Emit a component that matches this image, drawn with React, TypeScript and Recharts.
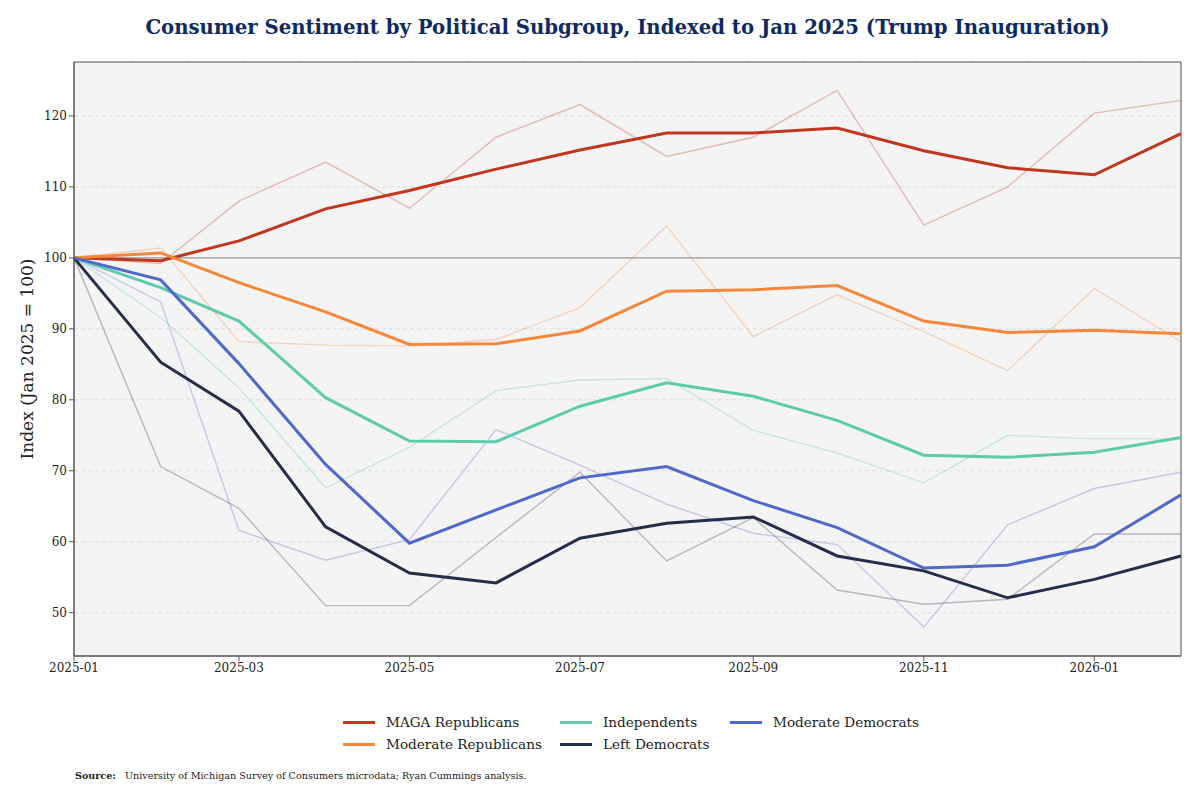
import { LineChart, Line, XAxis, YAxis, CartesianGrid, ReferenceLine, ReferenceArea } from "recharts";

const months = [
  "2025-01", "2025-02", "2025-03", "2025-04", "2025-05", "2025-06", "2025-07",
  "2025-08", "2025-09", "2025-10", "2025-11", "2025-12", "2026-01", "2026-02",
];
const xTicks = ["2025-01", "2025-03", "2025-05", "2025-07", "2025-09", "2025-11", "2026-01"];
const yTicks = [50, 60, 70, 80, 90, 100, 110, 120];

// thin lines: monthly index, thick lines: 3-month average
const magaRaw = [100, 99.2, 108, 113.5, 107, 117, 121.6, 114.3, 117, 123.6, 104.6, 110, 120.4, 122.2];
const magaAvg = [100, 99.6, 102.4, 106.9, 109.5, 112.5, 115.2, 117.6, 117.6, 118.3, 115.1, 112.7, 111.7, 117.5];
const modRepRaw = [100, 101.4, 88.2, 87.7, 87.6, 88.5, 93, 104.5, 88.9, 94.8, 89.6, 84.1, 95.7, 88.2];
const modRepAvg = [100, 100.7, 96.5, 92.4, 87.8, 87.9, 89.7, 95.3, 95.5, 96.1, 91.1, 89.5, 89.8, 89.3];
const indRaw = [100, 91.6, 81.7, 67.6, 73.3, 81.3, 82.8, 83, 75.7, 72.5, 68.3, 75, 74.5, 74.5];
const indAvg = [100, 95.8, 91.1, 80.3, 74.2, 74.1, 79.1, 82.4, 80.5, 77.1, 72.2, 71.9, 72.6, 74.7];
const modDemRaw = [100, 93.8, 61.6, 57.4, 60.3, 75.8, 70.8, 65.3, 61.2, 59.6, 48, 62.4, 67.5, 69.8];
const modDemAvg = [100, 96.9, 85.1, 70.9, 59.8, 64.5, 69, 70.6, 65.8, 62, 56.3, 56.7, 59.3, 66.6];
const leftDemRaw = [100, 70.6, 64.7, 51, 51, 60.6, 69.8, 57.3, 63.4, 53.2, 51.2, 51.9, 61.1, 61.1];
const leftDemAvg = [100, 85.3, 78.4, 62.1, 55.6, 54.2, 60.5, 62.6, 63.5, 58, 55.9, 52.1, 54.7, 58];

const groups = [
  { key: "maga", name: "MAGA Republicans", color: "#c1361f", raw: magaRaw, avg: magaAvg },
  { key: "modRep", name: "Moderate Republicans", color: "#f5883a", raw: modRepRaw, avg: modRepAvg },
  { key: "ind", name: "Independents", color: "#5ecbab", raw: indRaw, avg: indAvg },
  { key: "leftDem", name: "Left Democrats", color: "#262d4a", raw: leftDemRaw, avg: leftDemAvg },
  { key: "modDem", name: "Moderate Democrats", color: "#5068c8", raw: modDemRaw, avg: modDemAvg },
];

const legendOrder = ["maga", "modRep", "ind", "leftDem", "modDem"];

const toTime = (m: string) => {
  const [y, mo] = m.split("-").map(Number);
  return Date.UTC(y, mo - 1, 1);
};

const fmtMonth = (t: number) => {
  const d = new Date(t);
  return `${d.getUTCFullYear()}-${String(d.getUTCMonth() + 1).padStart(2, "0")}`;
};

const data = months.map((m, i) => {
  const row: Record<string, number> = { t: toTime(m) };
  groups.forEach((g) => {
    row[`${g.key}Raw`] = g.raw[i];
    row[`${g.key}Avg`] = g.avg[i];
  });
  return row;
});

const FONT = "Georgia, 'DejaVu Serif', serif";
const X0 = toTime("2025-01");
const X1 = toTime("2026-02");
const Y0 = 43.9;
const Y1 = 127.6;

export default function App() {
  return (
    <div style={{ position: "absolute", left: 0, top: 0, width: 1200, height: 805, background: "#fff", fontFamily: FONT }}>
      <div
        style={{
          position: "absolute", left: 74, width: 1107, top: 16, textAlign: "center",
          fontSize: 19.7, fontWeight: "bold", color: "#0f2a5e",
        }}
      >
        Consumer Sentiment by Political Subgroup, Indexed to Jan 2025 (Trump Inauguration)
      </div>
      <div
        style={{
          position: "absolute", left: 27, top: 359, transform: "translate(-50%, -50%) rotate(-90deg)",
          whiteSpace: "nowrap", fontSize: 17, color: "#222",
        }}
      >
        Index (Jan 2025 = 100)
      </div>
      <LineChart width={1200} height={700} data={data} margin={{ top: 62, right: 19, bottom: 14, left: 14 }}>
        <CartesianGrid vertical={false} stroke="#dcdcdc" strokeDasharray="4 3" fill="#f4f4f4" fillOpacity={1} />
        <XAxis
          dataKey="t" type="number" domain={[X0, X1]} ticks={xTicks.map(toTime)} tickFormatter={fmtMonth}
          stroke="#555" tickSize={5} height={30}
          tick={{ fontSize: 12, fill: "#222", fontFamily: FONT }}
        />
        <YAxis
          type="number" domain={[Y0, Y1]} ticks={yTicks} width={60} stroke="#555" tickSize={5}
          tick={{ fontSize: 12, fill: "#222", fontFamily: FONT }} allowDataOverflow
        />
        <ReferenceArea x1={X0} x2={X1} y1={Y0} y2={Y1} fill="none" stroke="#555" strokeWidth={1} />
        <ReferenceLine y={100} stroke="#9a9a9a" strokeWidth={1.2} />
        {groups.map((g) => (
          <Line
            key={`${g.key}Raw`} dataKey={`${g.key}Raw`} stroke={g.color} strokeOpacity={0.3}
            strokeWidth={1.4} dot={false} activeDot={false} isAnimationActive={false}
          />
        ))}
        {groups.map((g) => (
          <Line
            key={`${g.key}Avg`} dataKey={`${g.key}Avg`} stroke={g.color} strokeWidth={3}
            dot={false} activeDot={false} isAnimationActive={false}
          />
        ))}
      </LineChart>
      <div
        style={{
          position: "absolute", left: 343, top: 713, display: "grid", gridAutoFlow: "column",
          gridTemplateRows: "18px 18px", gridTemplateColumns: "217px 170px auto", rowGap: 4,
          fontSize: 13.6, color: "#222",
        }}
      >
        {legendOrder.map((k) => {
          const g = groups.find((x) => x.key === k)!;
          return (
            <div key={k} style={{ display: "flex", alignItems: "center", height: 18, whiteSpace: "nowrap" }}>
              <span
                style={{ display: "inline-block", flexShrink: 0, width: 32, height: 3, background: g.color, marginRight: 11 }}
              />
              {g.name}
            </div>
          );
        })}
      </div>
      <div style={{ position: "absolute", left: 75, top: 770, fontSize: 9.6, color: "#222", whiteSpace: "nowrap" }}>
        <b>Source:</b>&nbsp;&nbsp; University of Michigan Survey of Consumers microdata; Ryan Cummings analysis.
      </div>
    </div>
  );
}
